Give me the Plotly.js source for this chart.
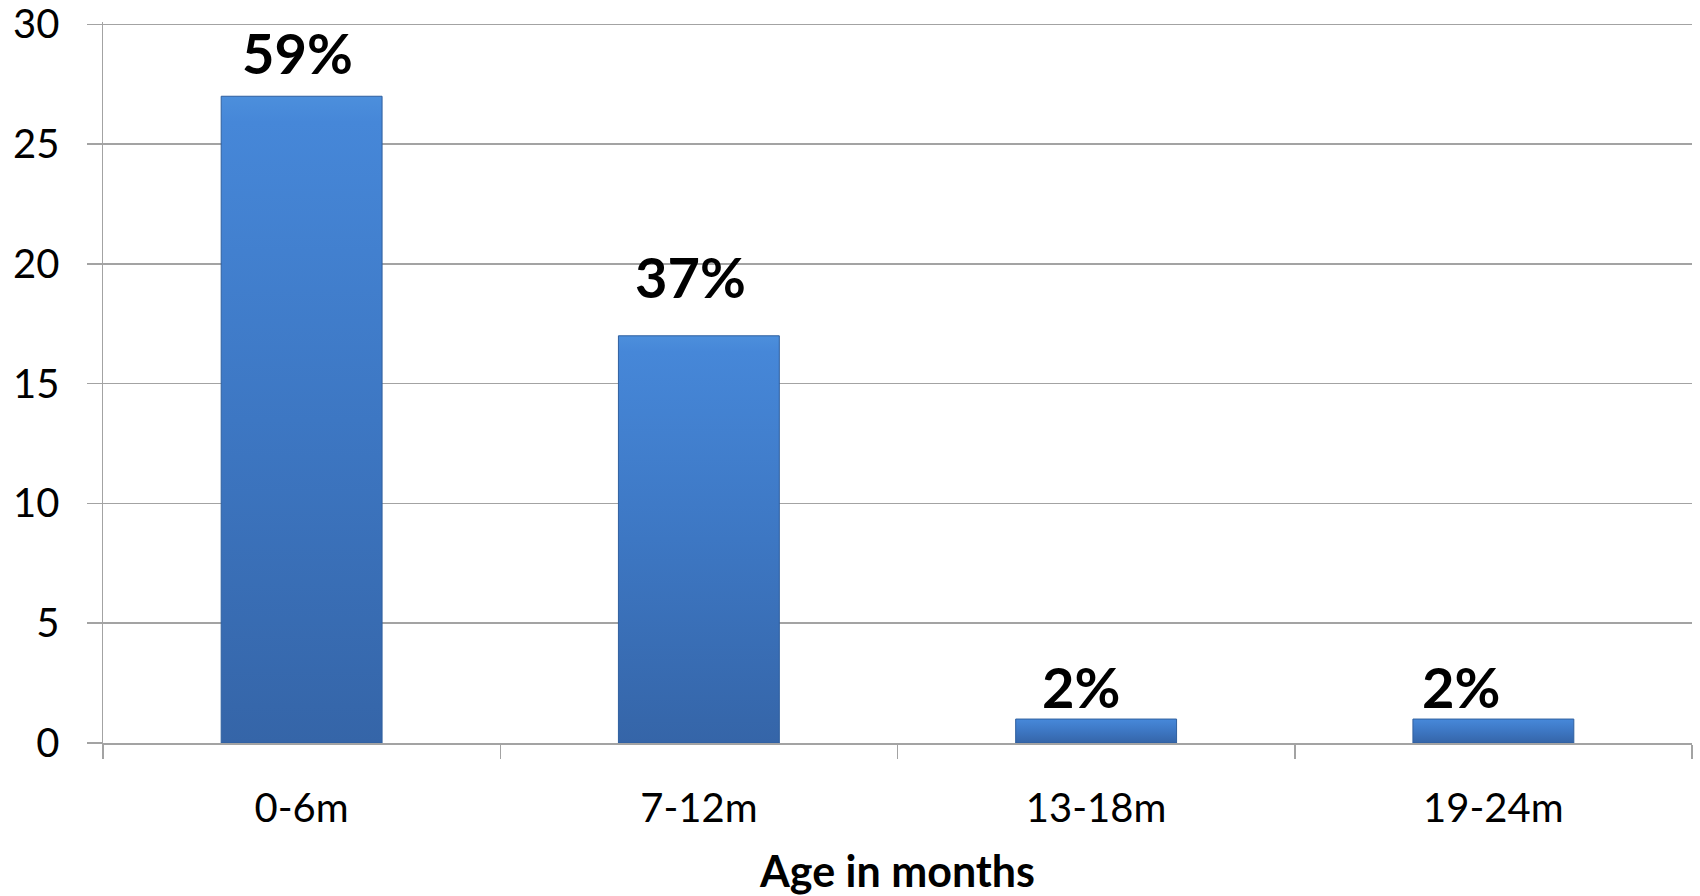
<!DOCTYPE html>
<html>
<head>
<meta charset="utf-8">
<script src="https://cdn.plot.ly/plotly-3.0.1.min.js"></script>
<style>
  html, body { margin: 0; padding: 0; background: #ffffff; }
  #chart { width: 1700px; height: 896px; }
</style>
</head>
<body>
<div id="chart"></div>
<script>
// Age groups and number of cases in each
const ageGroups = ['0-6m', '7-12m', '13-18m', '19-24m'];
const caseCounts = [27, 17, 1, 1];
const shareLabels = ['59%', '37%', '2%', '2%'];
const yTicks = [0, 5, 10, 15, 20, 25, 30];

// Hand-placed label nudges (px) for the percentage labels
const labelDx = [-4, -8, -15, -32];
const labelDy = [8, 24, -3, -3];

const FONT = 'Lato, "Open Sans", "DejaVu Sans", sans-serif';
const GRID = '#a3a3a3';

const bars = {
  type: 'bar',
  x: ageGroups,
  y: caseCounts,
  width: 0.405,
  marker: {
    color: '#3f7bc9',
    line: { color: '#2f5f9e', width: 1 }
  },
  hoverinfo: 'x+y'
};

const annotations = ageGroups.map((g, i) => ({
  x: g,
  y: caseCounts[i],
  xref: 'x',
  yref: 'y',
  text: '<b>' + shareLabels[i] + '</b>',
  showarrow: false,
  xanchor: 'center',
  yanchor: 'bottom',
  xshift: labelDx[i],
  yshift: labelDy[i],
  font: { family: FONT, size: 56, color: '#000000' }
}));

const layout = {
  width: 1700,
  height: 896,
  margin: { l: 103, r: 8, t: 21.5, b: 152.5, pad: 0 },
  paper_bgcolor: '#ffffff',
  plot_bgcolor: '#ffffff',
  showlegend: false,
  bargap: 0.6,
  font: { family: FONT, color: '#000000' },
  xaxis: {
    type: 'category',
    showline: true,
    linecolor: GRID,
    linewidth: 1.5,
    ticks: 'outside',
    tickson: 'boundaries',
    ticklen: 14,
    tickcolor: GRID,
    tickwidth: 1.5,
    showgrid: false,
    tickfont: { family: FONT, size: 40, color: '#000000' },
    ticklabelstandoff: 29,
    title: {
      text: '<b>Age in months</b>',
      font: { family: FONT, size: 43, color: '#000000' },
      standoff: 32
    },
    fixedrange: true
  },
  yaxis: {
    range: [0, 30.1],
    tickvals: yTicks,
    showline: true,
    linecolor: GRID,
    linewidth: 1.5,
    ticks: 'outside',
    ticklen: 15,
    tickcolor: GRID,
    tickwidth: 1.5,
    showgrid: true,
    gridcolor: GRID,
    gridwidth: 1.5,
    zeroline: false,
    tickfont: { family: FONT, size: 40, color: '#000000' },
    ticklabelstandoff: 19,
    ticklabeloverflow: 'allow',
    fixedrange: true
  },
  annotations: annotations
};

Plotly.newPlot('chart', [bars], layout, { displayModeBar: false, staticPlot: true }).then(gd => {
  // Shade the bars with a top-to-bottom gradient
  const svg = gd.querySelector('svg.main-svg');
  const ns = 'http://www.w3.org/2000/svg';
  let defs = svg.querySelector('defs');
  if (!defs) { defs = document.createElementNS(ns, 'defs'); svg.insertBefore(defs, svg.firstChild); }
  const grad = document.createElementNS(ns, 'linearGradient');
  grad.setAttribute('id', 'barShade');
  grad.setAttribute('x1', '0'); grad.setAttribute('y1', '0');
  grad.setAttribute('x2', '0'); grad.setAttribute('y2', '1');
  [['0', '#4c8fdc'], ['0.04', '#4687d8'], ['0.5', '#3d77c3'], ['1', '#3565a8']].forEach(([o, c]) => {
    const s = document.createElementNS(ns, 'stop');
    s.setAttribute('offset', o); s.setAttribute('stop-color', c);
    grad.appendChild(s);
  });
  defs.appendChild(grad);
  gd.querySelectorAll('.bars .point path').forEach(p => { p.style.fill = 'url(#barShade)'; });
});
</script>
</body>
</html>
